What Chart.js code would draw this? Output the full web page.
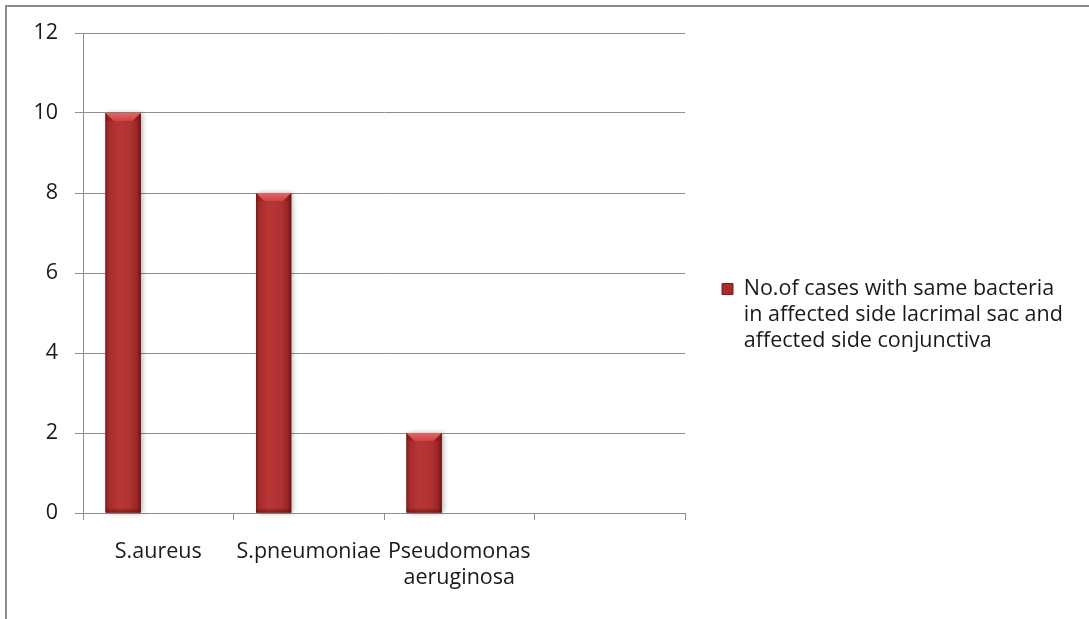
<!DOCTYPE html>
<html>
<head>
<meta charset="utf-8">
<script src="https://cdn.jsdelivr.net/npm/chart.js@4/dist/chart.umd.min.js"></script>
<style>
  html, body { margin: 0; padding: 0; background: #ffffff; overflow: hidden; }
  #wrap { position: relative; width: 1089px; height: 619px; }
  #frame {
    position: absolute; left: 5px; top: 5px; width: 1200px; height: 700px;
    border: 2px solid #8c8c8c; pointer-events: none; box-sizing: border-box;
  }
  canvas { position: absolute; left: 0; top: 0; }
</style>
</head>
<body>
<div id="wrap">
  <canvas id="chart" width="1089" height="619"></canvas>
  <div id="frame"></div>
</div>
<script>
// Organisms isolated (last slot left empty)
const categories = ['S.aureus', 'S.pneumoniae', ['Pseudomonas', 'aeruginosa'], ''];
// No. of cases with the same bacteria on both sites
const sameBacteriaCases = [10, 8, 2, null];
// Unused series slots of the grouped layout
const emptySlotA = [null, null, null, null];
const emptySlotB = [null, null, null, null];
const seriesLabel = ['No.of cases with same bacteria', 'in affected side lacrimal sac and', 'affected side conjunctiva'];
const yTicks = [0, 2, 4, 6, 8, 10, 12];

const FONT = 'Open Sans';
const FONT_SIZE = 21.5;
const TEXT = '#1a1a1a';
const GRID = '#8e8e8e';
const LEGEND_WIDTH = 404;

// Let the legend column be wider than the default half-width cap
const legendWidth = {
  id: 'legendWidth',
  beforeLayout(chart) {
    const lg = chart.legend;
    if (lg && !lg.__wide) {
      const fit = lg.fit.bind(lg);
      lg.fit = function () { fit(); this.width = LEGEND_WIDTH; };
      lg.__wide = true;
    }
  }
};

// Cylinder-like shading on top of each plain bar
const barShading = {
  id: 'barShading',
  afterDatasetsDraw(chart) {
    const ctx = chart.ctx;
    const values = chart.data.datasets[0].data;
    const meta = chart.getDatasetMeta(0);
    meta.data.forEach((bar, i) => {
      if (values[i] == null) return;
      const w = bar.width, l = bar.x - w / 2, r = bar.x + w / 2;
      const top = bar.y, bot = bar.base, h = bot - top;
      ctx.save();
      ctx.shadowColor = 'rgba(0,0,0,0.30)';
      ctx.shadowBlur = 5;
      ctx.shadowOffsetX = 2;
      ctx.shadowOffsetY = 0;
      ctx.fillStyle = '#9e2828';
      ctx.fillRect(l, top, w, h);
      ctx.restore();

      ctx.save();
      const g = ctx.createLinearGradient(l, 0, r, 0);
      g.addColorStop(0, '#7a1a1a');
      g.addColorStop(0.08, '#a52b2b');
      g.addColorStop(0.35, '#b83535');
      g.addColorStop(0.7, '#b03232');
      g.addColorStop(0.9, '#992626');
      g.addColorStop(1, '#6a1414');
      ctx.fillStyle = g;
      ctx.fillRect(l, top, w, h);

      // top chamfer
      const c = Math.min(8, h / 2);
      const gt = ctx.createLinearGradient(0, top, 0, top + c);
      gt.addColorStop(0, '#e86464');
      gt.addColorStop(1, '#c94444');
      ctx.fillStyle = gt;
      ctx.beginPath();
      ctx.moveTo(l, top);
      ctx.lineTo(r, top);
      ctx.lineTo(r - c, top + c);
      ctx.lineTo(l + c, top + c);
      ctx.closePath();
      ctx.fill();
      ctx.fillStyle = 'rgba(120,20,20,0.35)';
      ctx.beginPath();
      ctx.moveTo(l, top); ctx.lineTo(l + c, top + c); ctx.lineTo(l, top + c); ctx.closePath();
      ctx.fill();
      ctx.beginPath();
      ctx.moveTo(r, top); ctx.lineTo(r - c, top + c); ctx.lineTo(r, top + c); ctx.closePath();
      ctx.fill();

      // darker foot
      const gb = ctx.createLinearGradient(0, bot - 5, 0, bot);
      gb.addColorStop(0, 'rgba(90,15,15,0)');
      gb.addColorStop(1, 'rgba(90,15,15,0.6)');
      ctx.fillStyle = gb;
      ctx.fillRect(l, bot - 5, w, 5);
      ctx.restore();
    });
  }
};

new Chart(document.getElementById('chart'), {
  type: 'bar',
  data: {
    labels: categories,
    datasets: [
      { label: seriesLabel, data: sameBacteriaCases, backgroundColor: '#a82b2b', borderWidth: 0 },
      { label: 'slotA', data: emptySlotA, backgroundColor: '#a82b2b' },
      { label: 'slotB', data: emptySlotB, backgroundColor: '#a82b2b' }
    ]
  },
  options: {
    responsive: false,
    animation: false,
    devicePixelRatio: 1,
    categoryPercentage: 0.70,
    barPercentage: 1.0,
    layout: { padding: { top: 33, right: 0, bottom: 18, left: 0 } },
    plugins: {
      tooltip: { enabled: false },
      legend: {
        position: 'right',
        align: 'center',
        labels: {
          boxWidth: 11,
          boxHeight: 11,
          padding: 37,
          color: TEXT,
          font: { family: FONT, size: FONT_SIZE, lineHeight: 1.2 },
          generateLabels: () => [{
            text: seriesLabel,
            fillStyle: '#a82b2b',
            strokeStyle: '#7a1a1a',
            lineWidth: 1,
            datasetIndex: 0,
            fontColor: TEXT
          }]
        }
      }
    },
    scales: {
      x: {
        offset: true,
        grid: {
          display: true, drawOnChartArea: false, drawTicks: true, offset: true,
          tickLength: 7, color: GRID, lineWidth: 1
        },
        border: { display: true, color: GRID, width: 1 },
        ticks: {
          color: TEXT, padding: 19, maxRotation: 0, autoSkip: false,
          font: { family: FONT, size: FONT_SIZE, lineHeight: 1.2 }
        },
        afterFit: (s) => { s.height = 88; s.paddingLeft = 0; s.paddingRight = 0; }
      },
      y: {
        min: 0, max: 12,
        afterBuildTicks: (s) => { s.ticks = yTicks.map(v => ({ value: v })); },
        grid: { color: GRID, lineWidth: 1, tickLength: 8, drawTicks: true },
        border: { display: true, color: GRID, width: 1 },
        ticks: {
          color: TEXT, padding: 17,
          font: { family: FONT, size: FONT_SIZE, lineHeight: 1.2 }
        },
        afterFit: (s) => { s.width = 83; s.paddingTop = 0; s.paddingBottom = 0; }
      }
    }
  },
  plugins: [legendWidth, barShading]
});
</script>
</body>
</html>
